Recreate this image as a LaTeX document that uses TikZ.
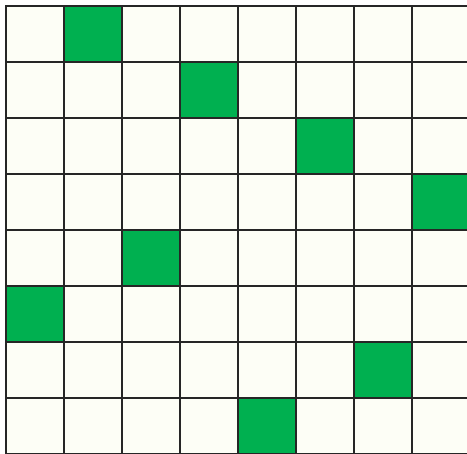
\documentclass[tikz,border=0pt]{standalone}
\usepackage{tikz}
\definecolor{boardbg}{RGB}{253,254,246}
\definecolor{queengreen}{RGB}{0,176,80}

\begin{document}
\begin{tikzpicture}[
    x=1pt, y=-1pt,
    cell/.style={fill=boardbg, draw=black!85, line width=1.2pt},
    queen/.style={fill=queengreen, draw=black!85, line width=1.2pt}
]
\useasboundingbox (0,0) rectangle (467,454);
\clip (0,0) rectangle (467,454);
\fill[white] (0,0) rectangle (467,454);
% board cells
\foreach \r in {0,...,7}{
  \foreach \c in {0,...,7}{
    \draw[cell] ({6+58*\c},{6+56*\r}) rectangle ++(58,56);
  }
}
% queens: row/column pairs
\foreach \r/\c in {0/1,1/3,2/5,3/7,4/2,5/0,6/6,7/4}{
  \draw[queen] ({6+58*\c},{6+56*\r}) rectangle ++(58,56);
}
\end{tikzpicture}
\end{document}
